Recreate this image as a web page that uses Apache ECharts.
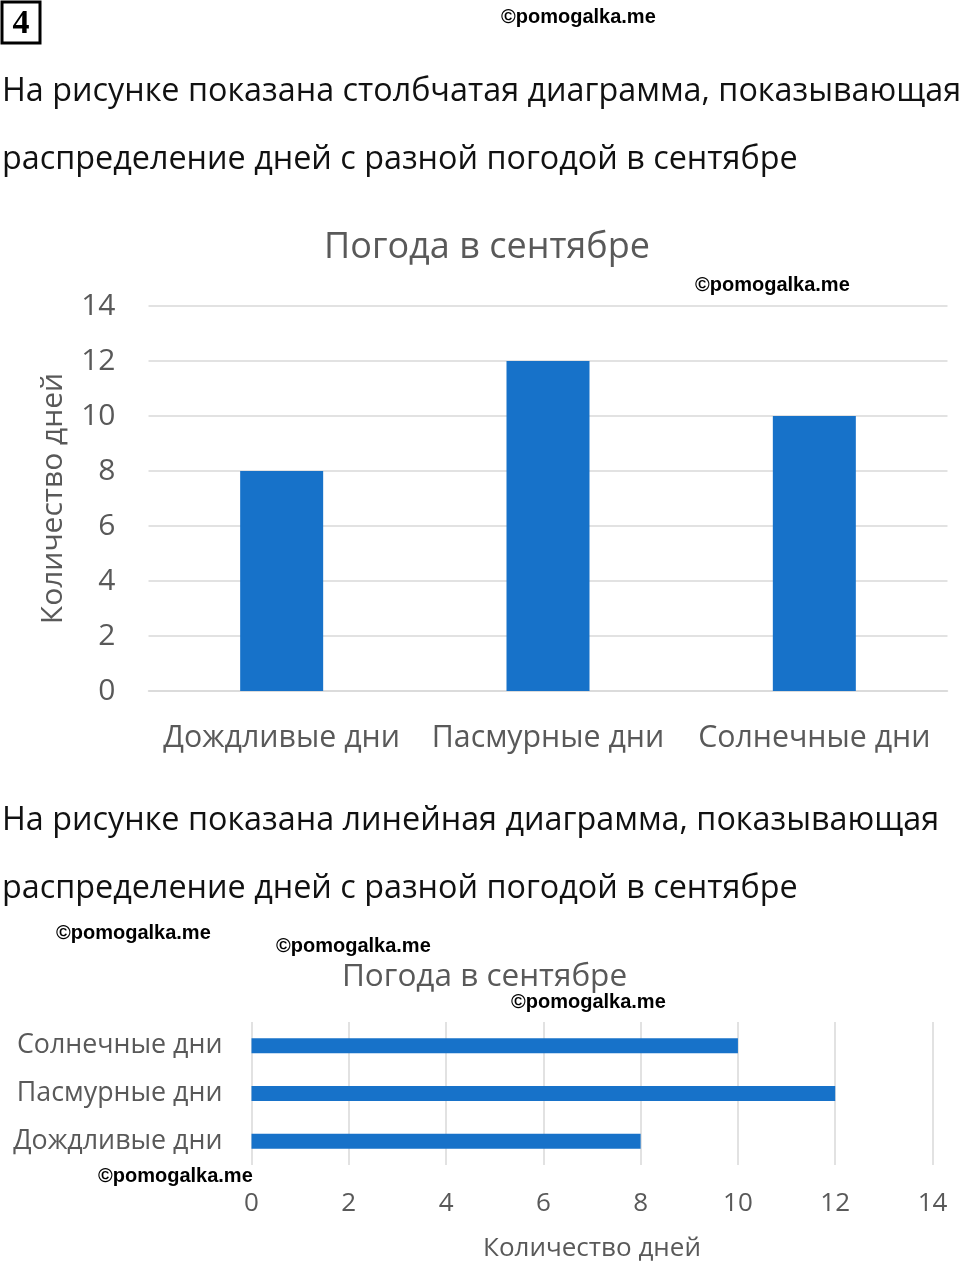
<!DOCTYPE html>
<html>
<head>
<meta charset="utf-8">
<style>
html, body { margin: 0; padding: 0; background: #fff; }
#chart { width: 960px; height: 1263px; }
</style>
<script src="https://cdn.jsdelivr.net/npm/echarts@6/dist/echarts.min.js"></script>
</head>
<body>
<div id="chart"></div>
<script>
var chartTitle = 'Погода в сентябре';
var valueName = 'Количество дней';
var categories = ['Дождливые дни', 'Пасмурные дни', 'Солнечные дни'];
var days = [8, 12, 10];
var valueTicks = [0, 2, 4, 6, 8, 10, 12, 14];
var taskNumber = '4';
var textLines = [
    'На рисунке показана столбчатая диаграмма, показывающая',
    'распределение дней с разной погодой в сентябре',
    'На рисунке показана линейная диаграмма, показывающая',
    'распределение дней с разной погодой в сентябре'
];
var watermark = '©pomogalka.me';

var FONT = '"Open Sans", sans-serif';
var GREY = '#595959';
var LINE = '#d9d9d9';
var BLUE = '#1772c9';

function pageLine(text, x, y) {
    return {
        type: 'text', x: x, y: y, z: 10,
        style: { text: text, font: '32.35px ' + FONT, fill: '#111', textVerticalAlign: 'middle' }
    };
}
function mark(x, y) {
    return {
        type: 'text', x: x, y: y, z: 20,
        style: { text: watermark, font: 'bold 20px "Liberation Sans", Arial, sans-serif', fill: '#000', textVerticalAlign: 'middle' }
    };
}

var chart = echarts.init(document.getElementById('chart'));
chart.setOption({
    backgroundColor: '#fff',
    animation: false,
    title: [
        { text: chartTitle, left: 482, top: 225, textAlign: 'center', textStyle: { fontFamily: FONT, fontSize: 36, fontWeight: 'normal', color: GREY } },
        { text: chartTitle, left: 479.5, top: 956, textAlign: 'center', textStyle: { fontFamily: FONT, fontSize: 31.5, fontWeight: 'normal', color: GREY } }
    ],
    grid: [
        { left: 148.5, top: 306, width: 799, height: 385 },
        { left: 251.5, top: 1022, width: 681, height: 143 }
    ],
    xAxis: [
        {
            gridIndex: 0, type: 'category', data: categories,
            axisLine: { lineStyle: { color: LINE, width: 1.5 } }, axisTick: { show: false },
            axisLabel: { interval: 0, fontFamily: FONT, fontSize: 30.3, color: GREY, margin: 32 }
        },
        {
            gridIndex: 1, type: 'value', min: valueTicks[0], max: valueTicks[valueTicks.length - 1], interval: 2,
            name: valueName, nameLocation: 'middle', nameGap: 71,
            nameTextStyle: { fontFamily: FONT, fontSize: 26, color: GREY },
            axisLine: { show: false }, axisTick: { show: false },
            axisLabel: { fontFamily: FONT, fontSize: 26, color: GREY, margin: 26 },
            splitLine: { show: true, lineStyle: { color: LINE, width: 1.5 } }
        }
    ],
    yAxis: [
        {
            gridIndex: 0, type: 'value', min: valueTicks[0], max: valueTicks[valueTicks.length - 1], interval: 2,
            name: valueName, nameLocation: 'middle', nameGap: 80, nameRotate: 90,
            nameTextStyle: { fontFamily: FONT, fontSize: 30, color: GREY },
            axisLine: { show: false }, axisTick: { show: false },
            axisLabel: { fontFamily: FONT, fontSize: 30, color: GREY, margin: 33, padding: [2, 0, 0, 0] },
            splitLine: { lineStyle: { color: LINE, width: 1.5 } }
        },
        {
            gridIndex: 1, type: 'category', data: categories,
            axisLine: { show: false }, axisTick: { show: false },
            axisLabel: { interval: 0, fontFamily: FONT, fontSize: 26.8, color: GREY, margin: 29 }
        }
    ],
    series: [
        { type: 'bar', xAxisIndex: 0, yAxisIndex: 0, data: days, barWidth: 83, itemStyle: { color: BLUE } },
        { type: 'bar', xAxisIndex: 1, yAxisIndex: 1, data: days, barWidth: 15, itemStyle: { color: BLUE } }
    ],
    graphic: [
        { type: 'rect', shape: { x: 2, y: 2, width: 38, height: 41 }, style: { fill: '#fff', stroke: '#000', lineWidth: 3 } },
        { type: 'text', x: 21, y: 24, style: { text: taskNumber, font: 'bold 34px "Liberation Serif", serif', fill: '#000', textAlign: 'center', textVerticalAlign: 'middle' } },
        pageLine(textLines[0], 2, 92),
        pageLine(textLines[1], 2, 160),
        pageLine(textLines[2], 2, 821),
        pageLine(textLines[3], 2, 889),
        mark(501, 17), mark(695, 285), mark(56, 933), mark(276, 946), mark(511, 1002), mark(98, 1176)
    ]
});
</script>
</body>
</html>
